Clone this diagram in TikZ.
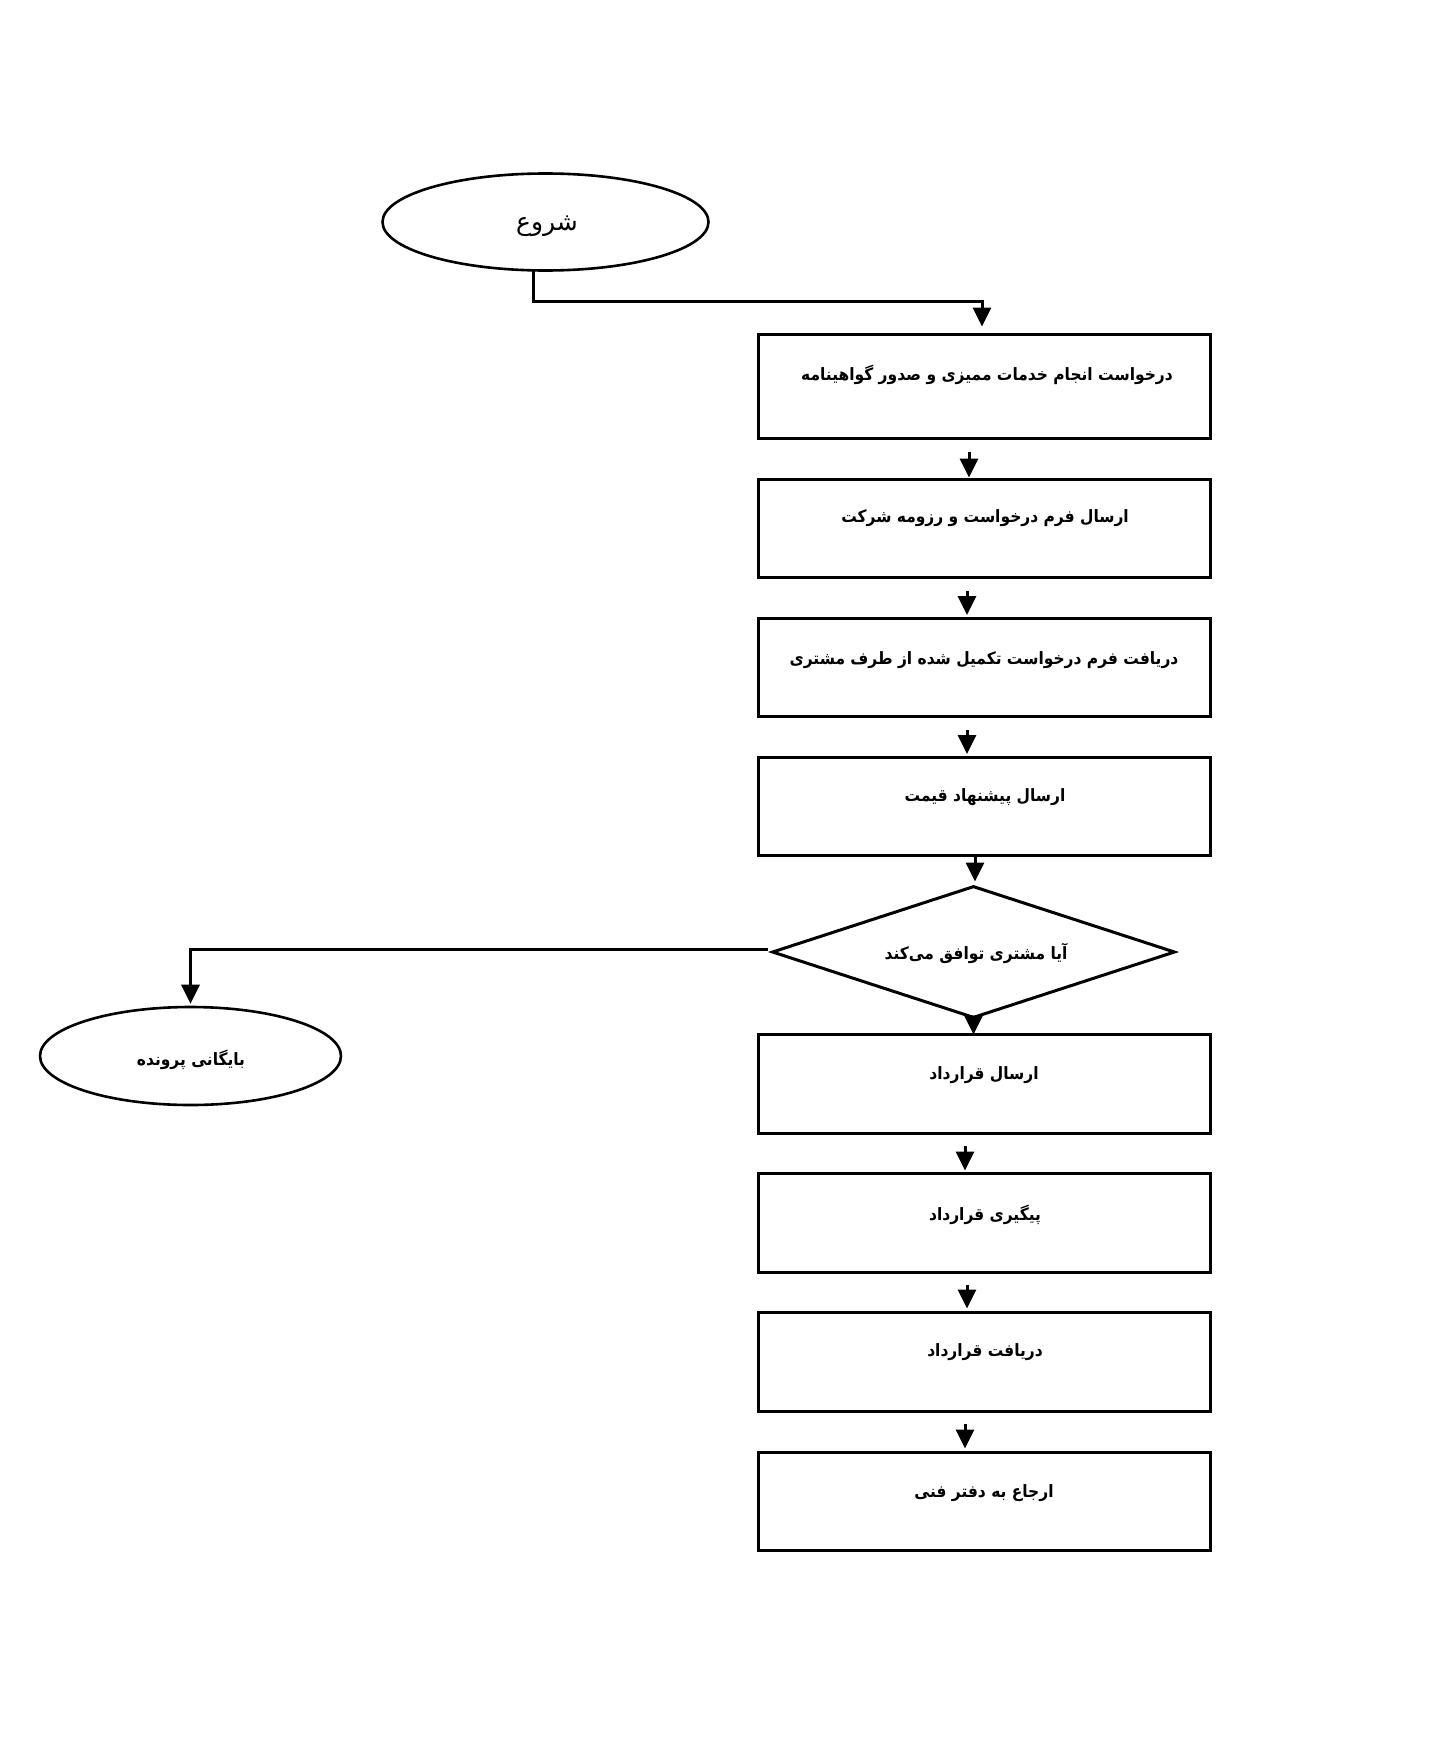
\documentclass[tikz,border=0pt]{standalone}
\usepackage{fontspec}
\usetikzlibrary{shapes.geometric,arrows.meta}
\TeXXeTstate=1
\newfontfamily\arabicfont[Script=Arabic]{DejaVu Sans}
\newfontfamily\arabicbold[Script=Arabic,FakeStretch=0.91]{DejaVu Sans Bold}
\tikzset{
  stepbox/.style={draw, line width=3pt, minimum width=452pt, minimum height=99pt, inner sep=0pt},
  term/.style={draw, ellipse, line width=2.6pt, inner sep=0pt},
  dec/.style={draw, diamond, line width=3pt, minimum width=403pt, minimum height=132pt, inner sep=0pt},
  lbl/.style={font=\arabicbold\fontsize{17}{20}\selectfont, inner sep=0pt},
  arr/.style={line width=3pt, -{Triangle[width=18pt,length=19pt]}},
  conn/.style={line width=3pt}
}
\begin{document}
\begin{tikzpicture}[x=1pt,y=-1pt]
\useasboundingbox (0,0) rectangle (1442,1742);
\fill[white] (0,0) rectangle (1442,1742);
% terminals
\node[term, minimum width=326pt, minimum height=97pt] (start) at (545.5,222) {};
\node[font=\arabicfont\fontsize{25}{28}\selectfont, inner sep=0pt] (startt) at (547,226) {\beginR شروع\endR};
\node[term, minimum width=301pt, minimum height=98pt] (arch) at (190.5,1056) {};
\node[lbl] (archt) at (191,1060) {\beginR بایگانی پرونده\endR};
% boxes
\node[stepbox, minimum height=104pt] (b1) at (984,386) {};
\node[lbl] (t1) at (987,375) {\beginR درخواست انجام خدمات ممیزی و صدور گواهینامه\endR};
\node[stepbox, minimum height=98pt] (b2) at (984,528) {};
\node[lbl] (t2) at (985,518) {\beginR ارسال فرم درخواست و رزومه شرکت\endR};
\node[stepbox, minimum height=98pt] (b3) at (984,667.5) {};
\node[lbl] (t3) at (984,660) {\beginR دریافت فرم درخواست تکمیل شده از طرف مشتری\endR};
\node[stepbox, minimum height=98pt] (b4) at (984,806.5) {};
\node[lbl] (t4) at (985,797) {\beginR ارسال پیشنهاد قیمت\endR};
\node[dec] (d) at (973.5,952) {};
\node[lbl] (td) at (976,953) {\beginR آیا مشتری توافق می‌کند\endR};
\node[stepbox, minimum height=99pt] (b5) at (984,1083.5) {};
\node[lbl] (t5) at (984,1075) {\beginR ارسال قرارداد\endR};
\node[stepbox, minimum height=99pt] (b6) at (984,1222.5) {};
\node[lbl] (t6) at (985,1215) {\beginR پیگیری قرارداد\endR};
\node[stepbox, minimum height=99pt] (b7) at (984,1361.5) {};
\node[lbl] (t7) at (985,1352) {\beginR دریافت قرارداد\endR};
\node[stepbox, minimum height=98pt] (b8) at (984,1501) {};
\node[lbl] (t8) at (984,1493) {\beginR ارجاع به دفتر فنی\endR};
% connectors
\draw[arr, line cap=rect] ([xshift=-12.5pt]start.south) -- ++(0,30) -| ([xshift=-2pt,yshift=6pt]b1.north);
\draw[arr, shorten <=12pt] ([xshift=-15pt]b1.south) -- ([xshift=-15pt]b2.north);
\draw[arr, shorten <=12pt] ([xshift=-17pt]b2.south) -- ([xshift=-17pt,yshift=2pt]b2.south |- b3.north);
\draw[arr, shorten <=12pt] ([xshift=-17pt]b3.south) -- ([xshift=-17pt,yshift=2pt]b3.south |- b4.north);
\draw[arr] ([xshift=-9pt]b4.south) -- ([xshift=-9pt,yshift=3pt]b4.south |- d.north);
\draw[arr] (d.south) -- ([yshift=-2pt]d.south |- b5.north);
\draw[arr, shorten <=11pt] ([xshift=-19pt]b5.south) -- ([xshift=-19pt,yshift=1pt]b5.south |- b6.north);
\draw[arr, shorten <=11pt] ([xshift=-17pt]b6.south) -- ([xshift=-17pt,yshift=2pt]b6.south |- b7.north);
\draw[arr, shorten <=11pt] ([xshift=-19pt]b7.south) -- ([xshift=-19pt,yshift=2pt]b7.south |- b8.north);
\draw[arr] ([xshift=-3pt,yshift=3pt]d.west) -| ([yshift=2pt]arch.north);
\end{tikzpicture}
\end{document}
